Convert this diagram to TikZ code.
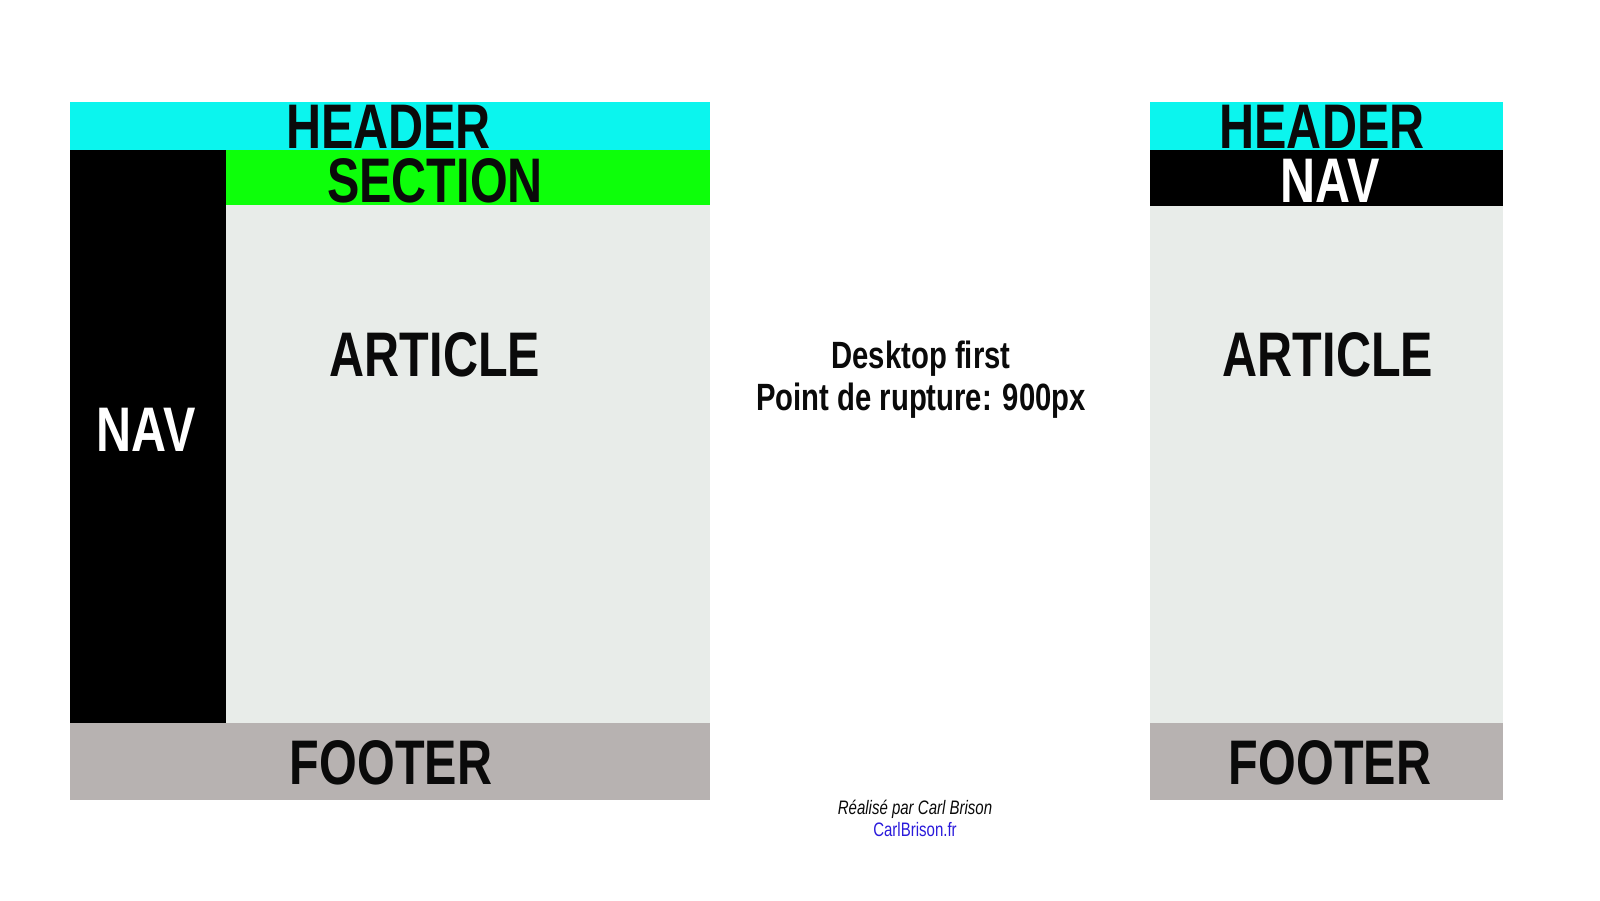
\documentclass[tikz,border=0pt]{standalone}
\usepackage{fontspec}
\newfontfamily\cond{Liberation Sans}[FakeStretch=0.77]
\definecolor{hdr}{HTML}{0BF5EE}
\definecolor{sec}{HTML}{0DFF0A}
\definecolor{art}{HTML}{E8ECE9}
\definecolor{ftr}{HTML}{B7B2B1}
\definecolor{ink}{HTML}{0A0A0A}
\definecolor{lnk}{HTML}{2A1ADB}
\tikzset{
  big/.style={inner sep=0pt, text=ink, font=\cond\bfseries\fontsize{63}{63}\selectfont},
  bigw/.style={big, text=white},
  mid/.style={inner sep=0pt, anchor=base, text=ink, font=\cond\bfseries\fontsize{38}{38}\selectfont},
  small/.style={inner sep=0pt, anchor=base, text=ink, font=\cond\itshape\fontsize{19.5}{19.5}\selectfont}
}
\begin{document}
\begin{tikzpicture}[x=1pt,y=-1pt]
\useasboundingbox (0,0) rectangle (1600,900);
\fill[white] (0,0) rectangle (1600,900);
% left layout
\fill[hdr] (69.5,102) rectangle (710,150);
\fill[black] (69.5,150) rectangle (225.5,722.5);
\fill[sec] (225.5,150) rectangle (710,205);
\fill[art] (225.5,205) rectangle (710,722.5);
\fill[ftr] (69.5,722.5) rectangle (710,800);
\node[big] (lh) at (388.5,126.5) {HEADER};
\node[big] (ls) at (435,180.5) {SECTION};
\node[big] (la) at (435,355) {ARTICLE};
\node[bigw] (ln) at (146,430) {NAV};
\node[big] (lf) at (391,763) {FOOTER};
% right layout
\fill[hdr] (1150,102) rectangle (1503,150);
\fill[black] (1150,150) rectangle (1503,206);
\fill[art] (1150,206) rectangle (1503,722.5);
\fill[ftr] (1150,722.5) rectangle (1503,800);
\node[big] (rh) at (1322,126.5) {HEADER};
\node[bigw] (rn) at (1330,180.5) {NAV};
\node[big] (ra) at (1328,355) {ARTICLE};
\node[big] (rf) at (1330,763) {FOOTER};
% middle text
\node[mid] (t1) at (921,368) {Desktop first};
\node[mid] (t2) at (921,410) {Point de rupture: 900px};
\node[small] (c1) at (915,814) {Réalisé par Carl Brison};
\node[small, text=lnk, font=\cond\fontsize{19.5}{19.5}\selectfont] (c2) at (915,836) {CarlBrison.fr};
\end{tikzpicture}
\end{document}
